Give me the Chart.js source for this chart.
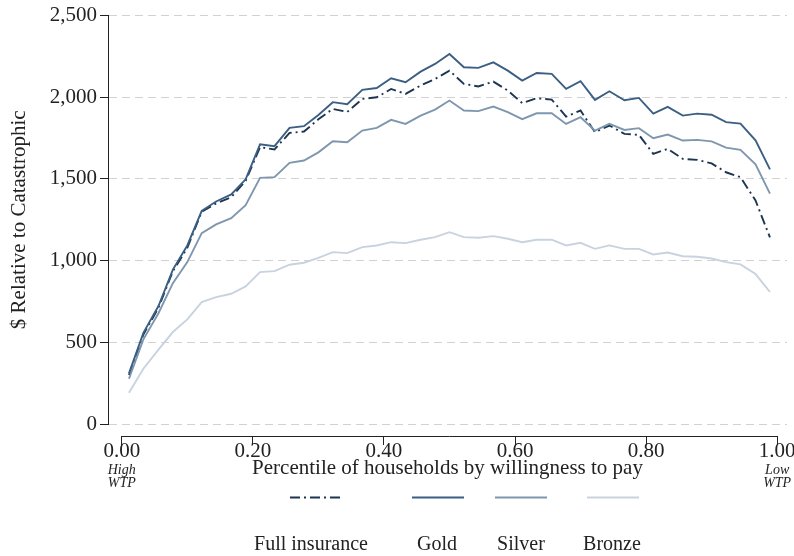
<!DOCTYPE html>
<html>
<head>
<meta charset="utf-8">
<script src="https://cdn.jsdelivr.net/npm/chart.js@4.4.0/dist/chart.umd.min.js"></script>
<style>
  html, body { margin: 0; padding: 0; background: #fff; }
  #wrap { width: 794px; height: 556px; position: relative; }
</style>
</head>
<body>
<div id="wrap"><canvas id="c" width="794" height="556"></canvas></div>
<script>
// Percentile of households (x positions of the 45 groups)
const percentiles = [0.011,0.033,0.056,0.078,0.100,0.122,0.144,0.167,0.189,0.211,0.233,0.256,0.278,0.300,0.322,0.344,0.367,0.389,0.411,0.433,0.456,0.478,0.500,0.522,0.544,0.567,0.589,0.611,0.633,0.656,0.678,0.700,0.722,0.744,0.767,0.789,0.811,0.833,0.856,0.878,0.900,0.922,0.944,0.967,0.989];

const fullInsurance = [300,548,712,935,1078,1300,1350,1388,1488,1695,1680,1782,1790,1865,1929,1910,1990,2000,2051,2021,2072,2112,2163,2082,2066,2096,2041,1964,1994,1986,1882,1919,1786,1827,1776,1770,1654,1684,1623,1617,1595,1541,1511,1368,1142];
const gold = [310,558,722,945,1093,1305,1362,1405,1498,1712,1701,1813,1823,1892,1970,1957,2045,2057,2116,2092,2157,2204,2265,2184,2180,2214,2163,2102,2149,2143,2051,2098,1984,2037,1982,1996,1900,1941,1888,1900,1893,1848,1839,1737,1559];
const silver = [277,518,678,862,991,1168,1222,1260,1340,1507,1511,1599,1613,1663,1731,1725,1796,1813,1862,1837,1888,1925,1980,1919,1915,1943,1909,1866,1902,1902,1837,1878,1796,1837,1800,1811,1749,1772,1735,1739,1730,1692,1678,1590,1410];
const bronze = [192,338,455,563,640,746,777,797,842,930,936,975,987,1017,1052,1046,1083,1093,1113,1107,1128,1144,1174,1144,1140,1150,1134,1113,1128,1128,1093,1109,1072,1093,1072,1072,1038,1050,1027,1024,1013,991,977,918,808];

const xTicks = [0, 0.2, 0.4, 0.6, 0.8, 1.0];
const yTicks = [0, 500, 1000, 1500, 2000, 2500];
const seriesNames = ['Full insurance', 'Gold', 'Silver', 'Bronze'];

const SERIF = '"Liberation Serif", "DejaVu Serif", serif';
const pts = arr => arr.map((v, i) => ({x: percentiles[i], y: v}));

const styles = [
  {color: '#1d3550', dash: [10, 4, 2, 4]},
  {color: '#3b5f83', dash: []},
  {color: '#7f97ae', dash: []},
  {color: '#c8d3df', dash: []}
];
const values = [fullInsurance, gold, silver, bronze];

const datasets = values.map((arr, k) => ({
  label: seriesNames[k],
  data: pts(arr),
  borderColor: styles[k].color,
  borderDash: styles[k].dash,
  borderWidth: 1.9,
  pointRadius: 0,
  fill: false,
  tension: 0,
  order: 4 - k
}));

const extras = {
  id: 'extras',
  afterDraw(chart) {
    const ctx = chart.ctx;
    const xs = chart.scales.x;
    const x0 = xs.getPixelForValue(xTicks[0]);
    const x1 = xs.getPixelForValue(xTicks[xTicks.length - 1]);
    const axisY = chart.chartArea.bottom + 12.5;
    ctx.save();
    ctx.strokeStyle = '#222';
    ctx.lineWidth = 1;
    ctx.beginPath();
    ctx.moveTo(x0, axisY);
    ctx.lineTo(x1, axisY);
    ctx.stroke();

    // High / Low WTP annotations
    ctx.fillStyle = '#222';
    ctx.font = 'italic 14px ' + SERIF;
    ctx.textAlign = 'center';
    ctx.textBaseline = 'middle';
    ctx.fillText('High', x0, 470);
    ctx.fillText('WTP', x0, 483);
    ctx.fillText('Low', x1, 470);
    ctx.fillText('WTP', x1, 483);

    // Legend: key above label
    const keyCenters = [316, 438, 521, 613];
    const labelCenters = [311, 437, 521, 612];
    const keyW = 52;
    chart.data.datasets.forEach((ds, k) => {
      ctx.save();
      ctx.strokeStyle = ds.borderColor;
      ctx.lineWidth = 2;
      ctx.setLineDash(ds.borderDash || []);
      ctx.beginPath();
      ctx.moveTo(keyCenters[k] - keyW / 2, 497.5);
      ctx.lineTo(keyCenters[k] + keyW / 2, 497.5);
      ctx.stroke();
      ctx.restore();
      ctx.fillStyle = '#222';
      ctx.font = '20px ' + SERIF;
      ctx.textAlign = 'center';
      ctx.textBaseline = 'middle';
      ctx.fillText(ds.label, labelCenters[k], 545);
    });
    ctx.restore();
  }
};

new Chart(document.getElementById('c'), {
  type: 'line',
  data: { datasets },
  plugins: [extras],
  options: {
    responsive: false,
    animation: false,
    devicePixelRatio: 1,
    layout: { padding: { top: 15, right: 7, left: 0, bottom: 0 } },
    plugins: { legend: { display: false }, tooltip: { enabled: false } },
    scales: {
      x: {
        type: 'linear',
        min: -0.021,
        max: 1.015,
        afterBuildTicks: s => { s.ticks = xTicks.map(v => ({value: v})); },
        afterFit: s => { s.height = 132; s.paddingLeft = 0; s.paddingRight = 0; },
        ticks: {
          callback: v => Number(v).toFixed(2),
          font: { family: SERIF, size: 21 },
          color: '#222',
          padding: -6,
          maxRotation: 0,
          autoSkip: false
        },
        grid: {
          display: true,
          drawOnChartArea: false,
          drawTicks: true,
          tickLength: 21,
          tickColor: '#222',
          tickWidth: 1,
          tickBorderDash: [0, 12, 9, 1000]
        },
        border: { display: false },
        title: {
          display: true,
          text: 'Percentile of households by willingness to pay',
          font: { family: SERIF, size: 21 },
          color: '#222',
          padding: { top: 0, bottom: 75 }
        }
      },
      y: {
        type: 'linear',
        min: 0,
        max: 2500,
        afterBuildTicks: s => { s.ticks = yTicks.map(v => ({value: v})); },
        afterFit: s => { s.width = 108; },
        ticks: {
          callback: v => Number(v).toLocaleString('en-US'),
          font: { family: SERIF, size: 21 },
          color: '#222',
          padding: 3
        },
        grid: {
          color: '#d2d2d2',
          lineWidth: 1,
          drawTicks: true,
          tickLength: 8,
          tickColor: '#222',
          tickBorderDash: []
        },
        border: { display: true, color: '#222', width: 1, dash: [8, 5] },
        title: {
          display: true,
          text: '$ Relative to Catastrophic',
          font: { family: SERIF, size: 21 },
          color: '#222',
          padding: { top: 7, bottom: 0 }
        }
      }
    }
  }
});
</script>
</body>
</html>
